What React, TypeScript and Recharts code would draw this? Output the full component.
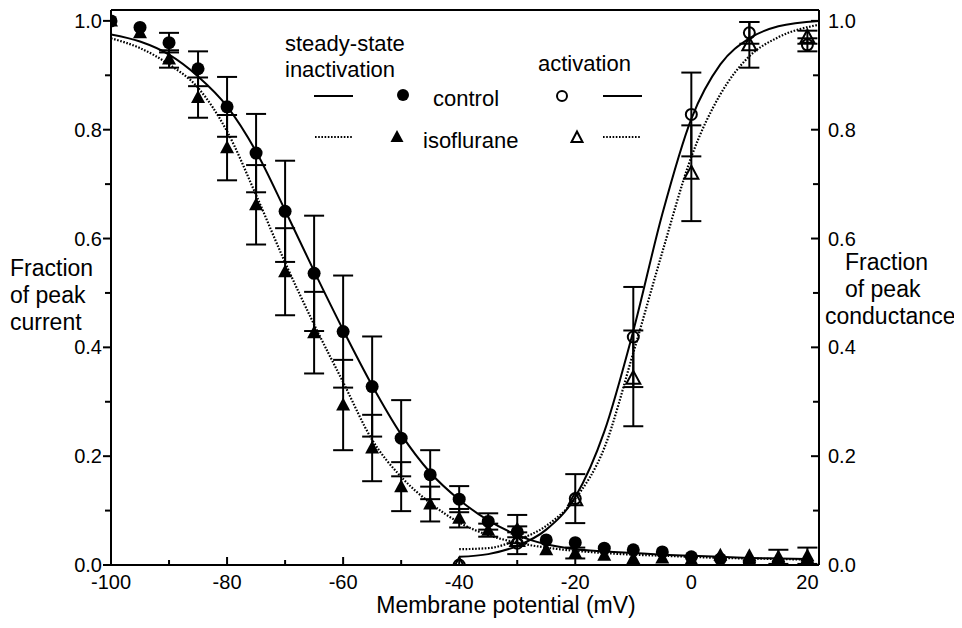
import React from 'react';
import {
  ComposedChart,
  Line,
  Scatter,
  ErrorBar,
  XAxis,
  YAxis,
  ReferenceLine,
} from 'recharts';

const FONT = '"Liberation Sans", Arial, Helvetica, sans-serif';

// steady-state inactivation (fraction of peak current)
const inactVoltages = [-100, -95, -90, -85, -80, -75, -70, -65, -60, -55, -50, -45, -40, -35, -30, -25, -20, -15, -10, -5, 0, 5, 10, 15, 20];
const controlInact = [1.0, 0.988, 0.96, 0.912, 0.842, 0.757, 0.65, 0.536, 0.429, 0.328, 0.233, 0.166, 0.121, 0.08, 0.061, 0.046, 0.041, 0.031, 0.028, 0.024, 0.015, 0.011, 0.005, 0.004, 0.004];
const controlInactErr = [null, null, 0.018, 0.032, 0.055, 0.072, 0.093, 0.106, 0.103, 0.092, 0.07, 0.045, 0.024, 0.015, 0.01, null, null, null, null, null, null, null, null, null, null];
const isoInact = [1.0, 0.978, 0.93, 0.859, 0.767, 0.662, 0.539, 0.427, 0.294, 0.215, 0.144, 0.112, 0.086, 0.064, 0.066, 0.028, 0.022, 0.018, 0.012, 0.013, 0.01, 0.018, 0.017, 0.015, 0.017];
const isoInactErr = [null, null, 0.016, 0.037, 0.06, 0.073, 0.08, 0.075, 0.083, 0.061, 0.045, 0.032, 0.017, 0.012, 0.026, null, 0.01, null, null, null, null, null, null, 0.013, 0.015];

// activation (fraction of peak conductance)
const actVoltages = [-40, -30, -20, -10, 0, 10, 20];
const controlAct = [0.0, 0.04, 0.122, 0.419, 0.828, 0.978, 0.956];
const controlActErr = [null, 0.02, 0.045, 0.092, 0.077, 0.02, 0.012];
const isoAct = [0.0, 0.045, 0.12, 0.343, 0.72, 0.956, 0.97];
const isoActErr = [null, null, null, 0.088, 0.088, 0.042, 0.012];

// fitted curves
const inactFitVoltages = [-100, -95, -90, -85, -80, -75, -70, -65, -60, -55, -50, -45, -40, -35, -30, -25, -20, -15, -10, -5, 0, 5, 10, 15, 20];
const controlInactFit = [0.975, 0.962, 0.938, 0.898, 0.843, 0.76, 0.652, 0.54, 0.432, 0.33, 0.24, 0.17, 0.12, 0.082, 0.055, 0.038, 0.029, 0.025, 0.022, 0.019, 0.017, 0.015, 0.013, 0.012, 0.011];
const isoInactFit = [0.968, 0.95, 0.92, 0.877, 0.797, 0.68, 0.556, 0.442, 0.336, 0.23, 0.162, 0.114, 0.078, 0.055, 0.041, 0.032, 0.026, 0.022, 0.019, 0.017, 0.015, 0.013, 0.012, 0.011, 0.01];
const actFitVoltages = [-40, -35, -30, -25, -20, -15, -10, -5, 0, 5, 10, 15, 22];
const controlActFit = [0.015, 0.02, 0.035, 0.065, 0.125, 0.245, 0.43, 0.645, 0.82, 0.92, 0.968, 0.99, 1.0];
const isoActFit = [0.029, 0.031, 0.046, 0.072, 0.122, 0.215, 0.39, 0.575, 0.75, 0.865, 0.935, 0.97, 0.993];

const xTicks = [-100, -90, -80, -70, -60, -50, -40, -30, -20, -10, 0, 10, 20];
const yTicks = [0, 0.1, 0.2, 0.3, 0.4, 0.5, 0.6, 0.7, 0.8, 0.9, 1.0];

const pts = (xs: number[], ys: number[], errs?: (number | null)[]) =>
  xs.map((x, i) => ({ x, y: ys[i], err: errs ? errs[i] : null }));

const controlInactData = pts(inactVoltages, controlInact, controlInactErr);
const isoInactData = pts(inactVoltages, isoInact, isoInactErr);
const controlActData = pts(actVoltages, controlAct, controlActErr);
const isoActData = pts(actVoltages, isoAct, isoActErr);
const controlInactFitData = pts(inactFitVoltages, controlInactFit);
const isoInactFitData = pts(inactFitVoltages, isoInactFit);
const controlActFitData = pts(actFitVoltages, controlActFit);
const isoActFitData = pts(actFitVoltages, isoActFit);

const DOTTED = '1.6 1.6';

const triPath = (cx: number, cy: number) =>
  `M${cx},${cy - 7.5} L${cx + 7},${cy + 5.5} L${cx - 7},${cy + 5.5} Z`;

const FilledCircle = (p: any) => <circle cx={p.cx} cy={p.cy} r={6.5} fill="#000" />;
const OpenCircle = (p: any) => (
  <circle cx={p.cx} cy={p.cy} r={5.5} fill="none" stroke="#000" strokeWidth={2} />
);
const FilledTri = (p: any) => <path d={triPath(p.cx, p.cy)} fill="#000" />;
const OpenTri = (p: any) => (
  <path d={triPath(p.cx, p.cy)} fill="none" stroke="#000" strokeWidth={2} />
);

const XTick = (props: any) => {
  const { x, y, payload } = props;
  const v = payload.value;
  const major = v % 20 === 0;
  return (
    <g>
      <line x1={x} x2={x} y1={y} y2={y - (major ? 8 : 5)} stroke="#000" strokeWidth={2} />
      {major && (
        <text x={x} y={y + 17} textAnchor="middle" dominantBaseline="central" fontSize={20} fontFamily={FONT} fill="#000">
          {v}
        </text>
      )}
    </g>
  );
};

const LeftTick = (props: any) => {
  const { x, y, payload } = props;
  const v = payload.value;
  const major = Math.round(v * 10) % 2 === 0;
  return (
    <g>
      <line x1={x} x2={x - (major ? 8 : 6)} y1={y} y2={y} stroke="#000" strokeWidth={2} />
      {major && (
        <text x={x - 9} y={y} textAnchor="end" dominantBaseline="central" fontSize={20} fontFamily={FONT} fill="#000">
          {v.toFixed(1)}
        </text>
      )}
    </g>
  );
};

const RightTick = (props: any) => {
  const { x, y, payload } = props;
  const v = payload.value;
  const major = Math.round(v * 10) % 2 === 0;
  return (
    <g>
      <line x1={x} x2={x - (major ? 8 : 6)} y1={y} y2={y} stroke="#000" strokeWidth={2} />
      {major && (
        <text x={x + 9} y={y} textAnchor="start" dominantBaseline="central" fontSize={20} fontFamily={FONT} fill="#000">
          {v.toFixed(1)}
        </text>
      )}
    </g>
  );
};

const Overlay = () => {
  const t = { fontSize: 23, fontFamily: FONT, fill: '#000', dominantBaseline: 'central' as const };
  const l = { ...t, fontSize: 22 };
  return (
    <svg width={954} height={620} style={{ position: 'absolute', left: 0, top: 0, pointerEvents: 'none' }}>
      {/* axis titles */}
      <text {...t} x={498} y={597} textAnchor="middle">Membrane potential (mV)</text>
      <text {...t} x={2} y={260}>Fraction</text>
      <text {...t} x={2} y={287}>of peak</text>
      <text {...t} x={2} y={314}>current</text>
      <text {...t} x={837} y={254}>Fraction</text>
      <text {...t} x={837} y={281}>of peak</text>
      <text {...t} x={817} y={308}>conductance</text>

      {/* legend */}
      <text {...l} x={277} y={35}>steady-state</text>
      <text {...l} x={277} y={61}>inactivation</text>
      <text {...l} x={530} y={55}>activation</text>

      <line x1={306} x2={345} y1={88} y2={88} stroke="#000" strokeWidth={2} />
      <circle cx={395} cy={87} r={6} fill="#000" />
      <text {...l} x={425} y={90}>control</text>
      <circle cx={554} cy={88} r={5} fill="none" stroke="#000" strokeWidth={2} />
      <line x1={595} x2={634} y1={88} y2={88} stroke="#000" strokeWidth={2} />

      <line x1={307} x2={344} y1={129} y2={129} stroke="#000" strokeWidth={2} strokeDasharray={DOTTED} />
      <path d="M389,122 L395.5,134 L382.5,134 Z" fill="#000" />
      <text {...l} x={415} y={132}>isoflurane</text>
      <path d="M569,123.5 L574.5,134 L563.5,134 Z" fill="none" stroke="#000" strokeWidth={2} />
      <line x1={595} x2={632} y1={129} y2={129} stroke="#000" strokeWidth={2} strokeDasharray={DOTTED} />
    </svg>
  );
};

export default function App() {
  return (
    <div style={{ position: 'relative', width: 954, height: 620, background: '#fff' }}>
      <ComposedChart width={954} height={620} margin={{ top: 2, right: 3, bottom: 3, left: 3 }}>
        <XAxis
          type="number"
          dataKey="x"
          domain={[-100, 22]}
          allowDataOverflow
          ticks={xTicks}
          interval={0}
          height={60}
          tickSize={0}
          tickMargin={0}
          tick={XTick}
          axisLine={{ stroke: '#000', strokeWidth: 2 }}
        />
        <YAxis
          yAxisId="left"
          type="number"
          domain={[0, 1.02]}
          allowDataOverflow
          ticks={yTicks}
          interval={0}
          width={100}
          tickSize={0}
          tickMargin={0}
          tick={LeftTick}
          axisLine={{ stroke: '#000', strokeWidth: 2 }}
        />
        <YAxis
          yAxisId="right"
          orientation="right"
          type="number"
          domain={[0, 1.02]}
          allowDataOverflow
          ticks={yTicks}
          interval={0}
          width={140}
          tickSize={0}
          tickMargin={0}
          tick={RightTick}
          axisLine={{ stroke: '#000', strokeWidth: 2 }}
        />
        <ReferenceLine yAxisId="left" y={1.02} stroke="#000" strokeWidth={2} />

        <Line yAxisId="left" data={controlInactFitData} dataKey="y" type="monotone" dot={false} stroke="#000" strokeWidth={2} isAnimationActive={false} />
        <Line yAxisId="left" data={isoInactFitData} dataKey="y" type="monotone" dot={false} stroke="#000" strokeWidth={2.2} strokeDasharray={DOTTED} isAnimationActive={false} />
        <Line yAxisId="left" data={controlActFitData} dataKey="y" type="monotone" dot={false} stroke="#000" strokeWidth={2} isAnimationActive={false} />
        <Line yAxisId="left" data={isoActFitData} dataKey="y" type="monotone" dot={false} stroke="#000" strokeWidth={2.2} strokeDasharray={DOTTED} isAnimationActive={false} />

        <Scatter yAxisId="left" data={isoInactData} dataKey="y" shape={FilledTri} isAnimationActive={false}>
          <ErrorBar dataKey="err" direction="y" width={10} stroke="#000" strokeWidth={2} isAnimationActive={false} />
        </Scatter>
        <Scatter yAxisId="left" data={controlInactData} dataKey="y" shape={FilledCircle} isAnimationActive={false}>
          <ErrorBar dataKey="err" direction="y" width={10} stroke="#000" strokeWidth={2} isAnimationActive={false} />
        </Scatter>
        <Scatter yAxisId="left" data={isoActData} dataKey="y" shape={OpenTri} isAnimationActive={false}>
          <ErrorBar dataKey="err" direction="y" width={10} stroke="#000" strokeWidth={2} isAnimationActive={false} />
        </Scatter>
        <Scatter yAxisId="left" data={controlActData} dataKey="y" shape={OpenCircle} isAnimationActive={false}>
          <ErrorBar dataKey="err" direction="y" width={10} stroke="#000" strokeWidth={2} isAnimationActive={false} />
        </Scatter>
      </ComposedChart>
      <Overlay />
    </div>
  );
}
